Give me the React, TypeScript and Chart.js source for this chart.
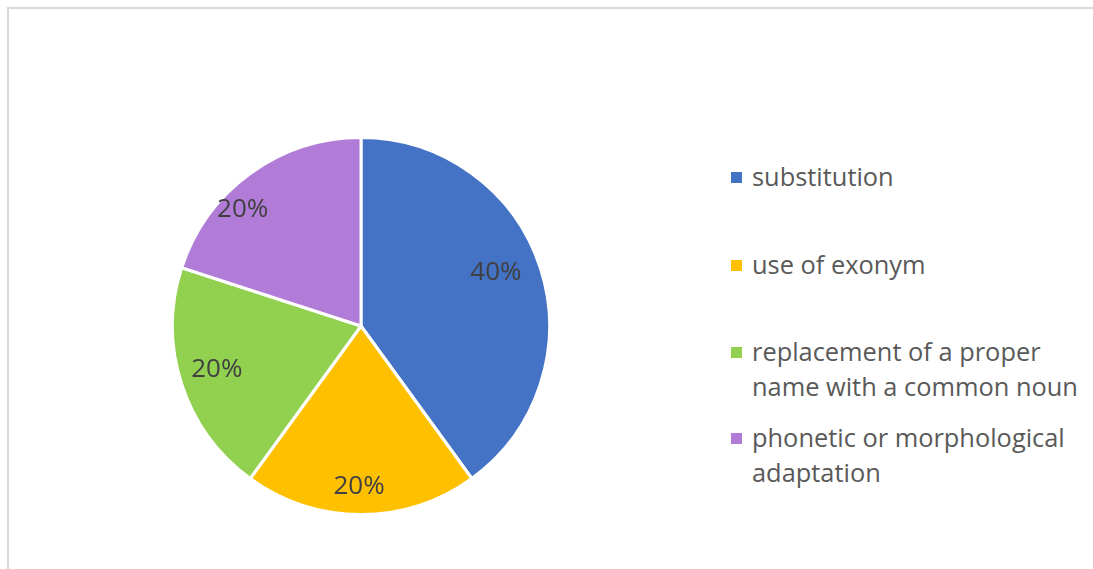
import React, { useEffect, useRef } from "react";
import { Chart, registerables } from "chart.js";

Chart.register(...registerables);

const categories: string[][] = [
  ["substitution"],
  ["use of exonym"],
  ["replacement of a proper", "name with a common noun"],
  ["phonetic or morphological", "adaptation"],
];
const values: number[] = [40, 20, 20, 20];
const valueLabels: string[] = ["40%", "20%", "20%", "20%"];
const colors: string[] = ["#4472C4", "#FFC000", "#92D050", "#B07CD8"];
const labelRadius: number[] = [0.77, 0.85, 0.8, 0.88];
const labelAngleShift: number[] = [-3.6, 0.7, 1, -9.5];

const FONT = "'Open Sans', sans-serif";

const labelPlugin = {
  id: "sliceLabels",
  afterDatasetsDraw(chart: any) {
    const meta = chart.getDatasetMeta(0);
    const ctx = chart.ctx;
    ctx.save();
    ctx.font = `26px ${FONT}`;
    ctx.fillStyle = "#404040";
    ctx.textAlign = "center";
    ctx.textBaseline = "middle";
    meta.data.forEach((arc: any, i: number) => {
      const { x, y, startAngle, endAngle, outerRadius } = arc.getProps(
        ["x", "y", "startAngle", "endAngle", "outerRadius"],
        true
      );
      const mid = (startAngle + endAngle) / 2 + (labelAngleShift[i] * Math.PI) / 180;
      const r = outerRadius * labelRadius[i];
      ctx.fillText(valueLabels[i], x + Math.cos(mid) * r, y + Math.sin(mid) * r);
    });
    ctx.restore();
  },
};

export default function App() {
  const ref = useRef<HTMLCanvasElement | null>(null);
  useEffect(() => {
    if (!ref.current) return;
    const chart = new Chart(ref.current, {
      type: "pie",
      data: {
        labels: categories.map((c) => c.join(" ")),
        datasets: [
          {
            data: values,
            backgroundColor: colors,
            borderColor: "#ffffff",
            borderWidth: 3,
          },
        ],
      },
      options: {
        animation: false,
        responsive: false,
        maintainAspectRatio: false,
        layout: { padding: { left: 171, right: 169, top: 136, bottom: 53 } },
        plugins: {
          legend: { display: false },
          tooltip: { enabled: false },
        },
      },
      plugins: [labelPlugin],
    });
    return () => chart.destroy();
  }, []);

  return (
    <div
      style={{
        position: "fixed",
        left: 0,
        top: 0,
        width: 1093,
        height: 569,
        overflow: "hidden",
        background: "#ffffff",
      }}
    >
      <div
        style={{
          position: "absolute",
          left: 7,
          top: 7,
          width: 1086,
          height: 2,
          background: "#d9d9d9",
        }}
      />
      <div
        style={{
          position: "absolute",
          left: 7,
          top: 7,
          width: 2,
          height: 562,
          background: "#d9d9d9",
        }}
      />
      <canvas
        ref={ref}
        width={720}
        height={569}
        style={{ position: "absolute", left: 0, top: 0, width: 720, height: 569 }}
      />
      <div
        style={{
          position: "absolute",
          left: 731,
          top: 0,
          fontFamily: FONT,
          fontSize: 25.4,
          color: "#595959",
        }}
      >
        {categories.map((lines, i) => {
          const tops = [159, 247, 334, 420];
          return (
            <div
              key={i}
              style={{ position: "absolute", left: 0, top: tops[i], whiteSpace: "nowrap" }}
            >
              <div
                style={{
                  position: "absolute",
                  left: 0,
                  top: 13,
                  width: 11,
                  height: 11,
                  background: colors[i],
                }}
              />
              <div style={{ marginLeft: 21, lineHeight: "35px" }}>
                {lines.map((l, j) => (
                  <div key={j}>{l}</div>
                ))}
              </div>
            </div>
          );
        })}
      </div>
    </div>
  );
}
